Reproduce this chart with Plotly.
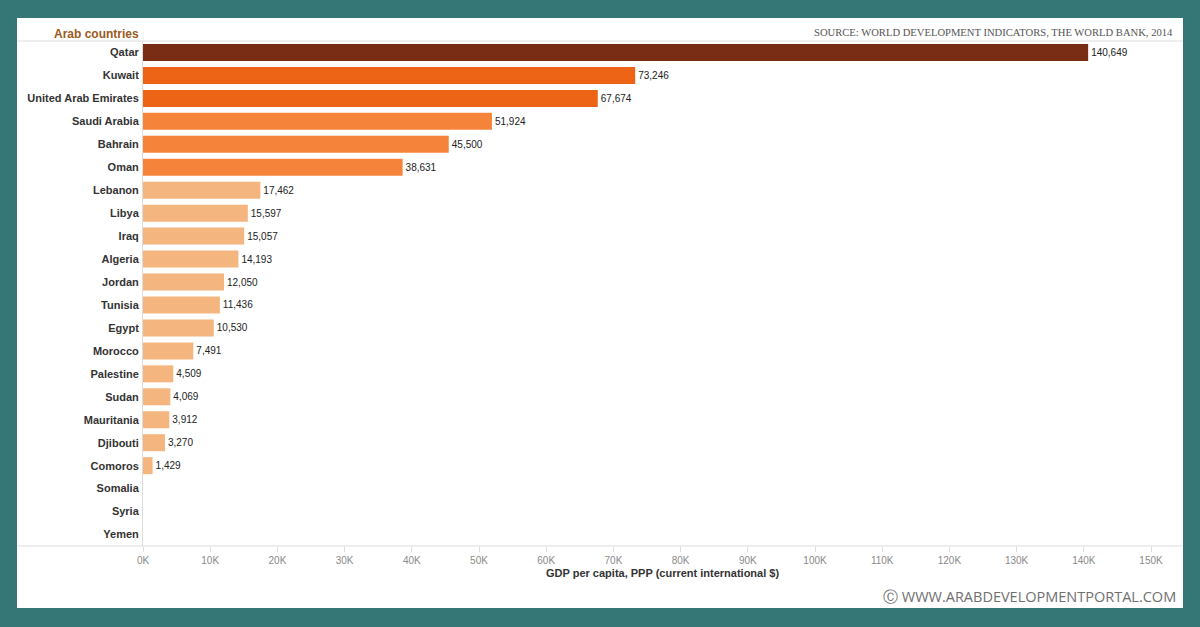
import plotly.graph_objects as go

countries = ["Qatar", "Kuwait", "United Arab Emirates", "Saudi Arabia", "Bahrain", "Oman",
             "Lebanon", "Libya", "Iraq", "Algeria", "Jordan", "Tunisia", "Egypt", "Morocco",
             "Palestine", "Sudan", "Mauritania", "Djibouti", "Comoros", "Somalia", "Syria", "Yemen"]
gdp_ppp = [140649, 73246, 67674, 51924, 45500, 38631, 17462, 15597, 15057, 14193, 12050,
           11436, 10530, 7491, 4509, 4069, 3912, 3270, 1429, None, None, None]
tick_values = [0, 10000, 20000, 30000, 40000, 50000, 60000, 70000, 80000, 90000, 100000,
               110000, 120000, 130000, 140000, 150000]
tick_labels = ["0K", "10K", "20K", "30K", "40K", "50K", "60K", "70K", "80K", "90K", "100K",
               "110K", "120K", "130K", "140K", "150K"]


def tier_color(v):
    if v is None:
        return "rgba(0,0,0,0)"
    if v > 100000:
        return "#7a2d15"
    if v > 60000:
        return "#ee6416"
    if v > 35000:
        return "#f5843a"
    return "#f4b57e"


colors = [tier_color(v) for v in gdp_ppp]
texts = ["" if v is None else f"{v:,}" for v in gdp_ppp]

# plot-area pixel geometry
L, R, T, B = 143, 1182, 41, 546
W, H = R - L, B - T


def px(x):
    return (x - L) / W


def py(y):
    return (B - y) / H


fig = go.Figure(go.Bar(
    y=countries, x=gdp_ppp, orientation="h",
    marker=dict(color=colors, line=dict(width=0)),
    width=0.74,
    text=texts, textposition="outside", cliponaxis=False,
    textfont=dict(family="Liberation Sans, Arial", size=10, color="#222222"),
    hoverinfo="x+y",
))

fig.update_layout(
    width=1200, height=627,
    margin=dict(l=L, r=1200 - R, t=T, b=627 - B, pad=0),
    paper_bgcolor="#357777",
    plot_bgcolor="rgba(0,0,0,0)",
    showlegend=False,
    bargap=0.26,
    xaxis=dict(
        range=[0, 150000 * W / 1008], tickvals=tick_values, ticktext=tick_labels,
        showgrid=False, zeroline=False, showline=False,
        ticks="outside", ticklen=5, tickcolor="#dddddd", tickwidth=1,
        tickfont=dict(family="Liberation Sans, Arial", size=10, color="#8a8a8a"),
        fixedrange=True,
    ),
    yaxis=dict(
        autorange="reversed", categoryorder="array", categoryarray=countries,
        showgrid=False, zeroline=False, showline=True, linecolor="#dddddd", linewidth=1,
        ticks="", ticklabelstandoff=1,
        tickfont=dict(family="Liberation Sans, Arial", size=11, color="#333333", weight="bold"),
        fixedrange=True,
    ),
    shapes=[
        dict(type="rect", xref="paper", yref="paper", x0=px(17), x1=px(1183), y0=py(608), y1=py(18),
             fillcolor="white", line=dict(width=0), layer="below"),
        dict(type="line", xref="paper", yref="paper", x0=px(17), x1=px(1183), y0=1, y1=1,
             line=dict(color="#dddddd", width=1)),
        dict(type="line", xref="paper", yref="paper", x0=px(17), x1=px(1183), y0=0, y1=0,
             line=dict(color="#dddddd", width=1)),
    ],
    annotations=[
        dict(text="<b>Arab countries</b>", xref="paper", yref="paper", x=px(141), y=py(34),
             xanchor="right", yanchor="middle", showarrow=False,
             font=dict(family="Liberation Sans, Arial", size=12, color="#9b5a22")),
        dict(text="SOURCE: WORLD DEVELOPMENT INDICATORS, THE WORLD BANK, 2014",
             xref="paper", yref="paper", x=px(1175), y=py(33),
             xanchor="right", yanchor="middle", showarrow=False,
             font=dict(family="Liberation Serif, Times New Roman", size=10.6, color="#555555")),
        dict(text="<b>GDP per capita, PPP (current international $)</b>",
             xref="paper", yref="paper", x=px(662), y=py(573),
             xanchor="center", yanchor="middle", showarrow=False,
             font=dict(family="Liberation Sans, Arial", size=11, color="#333333")),
        dict(text="Ⓒ WWW.ARABDEVELOPMENTPORTAL.COM",
             xref="paper", yref="paper", x=px(1178), y=py(596),
             xanchor="right", yanchor="middle", showarrow=False,
             font=dict(family="Open Sans, DejaVu Sans", size=14.5, color="#6f6f6f")),
    ],
)

fig.write_html(
    "out.html",
    config={"displayModeBar": False},
    post_script="document.body.style.margin='0';document.body.style.padding='0';"
                "document.body.style.background='#357777';",
)
